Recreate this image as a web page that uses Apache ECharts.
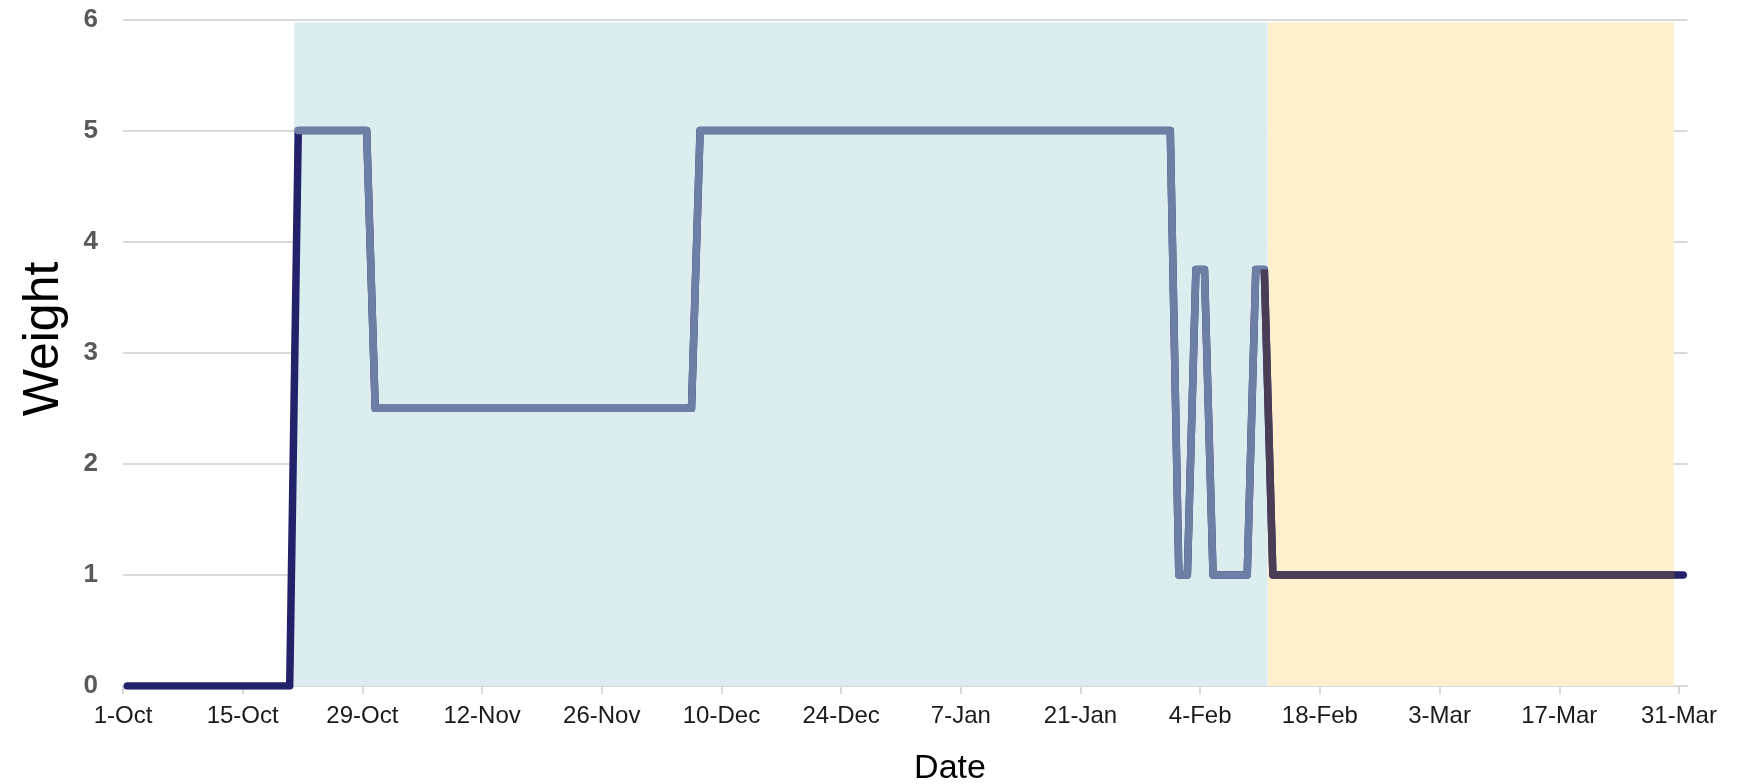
<!DOCTYPE html>
<html>
<head>
<meta charset="utf-8">
<script src="https://cdn.jsdelivr.net/npm/echarts@6/dist/echarts.min.js"></script>
<style>
html,body{margin:0;padding:0;background:#fff;}
#chart{width:1749px;height:784px;}
</style>
</head>
<body>
<div id="chart"></div>
<script>
// ---- data ----
const startDate = '2023-10-01';
// vertices of the weight line (daily values change only at these dates)
const dates = ['2023-10-01','2023-10-20','2023-10-21','2023-10-29','2023-10-30','2023-12-06','2023-12-07','2024-01-31','2024-02-01','2024-02-02','2024-02-03','2024-02-04','2024-02-05','2024-02-09','2024-02-10','2024-02-11','2024-02-12','2024-03-30','2024-03-31'];
const weights = [0,0,5,5,2.5,2.5,5,5,1,1,3.75,3.75,1,1,3.75,3.75,1,1,1];
// phase periods (highlighted series + shaded bands)
const phase1Range = ['2023-10-21','2024-02-11'];
const phase2Range = ['2024-02-11','2024-03-30'];
// shaded band edges, in days since 1-Oct
const band1 = [20, 133.9];
const band2 = [133.9, 181.4];
const bandTop = 5.975;
// x tick labels every 14 days
const tickDates = ['2023-10-01','2023-10-15','2023-10-29','2023-11-12','2023-11-26','2023-12-10','2023-12-24','2024-01-07','2024-01-21','2024-02-04','2024-02-18','2024-03-03','2024-03-17','2024-03-31'];
const yTicks = [0,1,2,3,4,5,6];

// ---- helpers ----
const MS = 86400000;
const t0 = Date.UTC(2023,9,1);
function dayIndex(s){ const p=s.split('-').map(Number); return Math.round((Date.UTC(p[0],p[1]-1,p[2])-t0)/MS); }
const MON = ['Jan','Feb','Mar','Apr','May','Jun','Jul','Aug','Sep','Oct','Nov','Dec'];
function fmt(d){ const dt = new Date(t0 + Math.round(d)*MS); return dt.getUTCDate()+'-'+MON[dt.getUTCMonth()]; }

const allPts = dates.map((d,i)=>[dayIndex(d)+0.5, weights[i]]);
function rangePts(r){ const a=dayIndex(r[0]), b=dayIndex(r[1]); return dates.map((d,i)=>[dayIndex(d), weights[i]]).filter(p=>p[0]>=a&&p[0]<=b).map(p=>[p[0]+0.5,p[1]]); }
const tickVals = tickDates.map(dayIndex);

const chart = echarts.init(document.getElementById('chart'), null, {renderer:'canvas'});
const font = 'Liberation Sans, Arial, sans-serif';
chart.setOption({
  animation:false,
  backgroundColor:'#ffffff',
  grid:{left:123, right:61.5, top:19.5, bottom:98, containLabel:false},
  xAxis:{
    type:'value', min:0, max:183,
    axisLine:{show:true, lineStyle:{color:'#d9d9d9', width:2}},
    axisTick:{show:true, customValues:tickVals, length:8, lineStyle:{color:'#d9d9d9', width:2}},
    axisLabel:{customValues:tickVals, formatter:v=>fmt(v), fontSize:24, color:'#1a1a1a', fontFamily:font, margin:18},
    splitLine:{show:false}
  },
  yAxis:{
    type:'value', min:0, max:6, interval:1,
    axisLine:{show:false}, axisTick:{show:false},
    axisLabel:{fontSize:26, fontWeight:'bold', color:'#595959', fontFamily:font, margin:25},
    splitLine:{show:true, lineStyle:{color:'#d9d9d9', width:2}}
  },
  series:[
    {type:'line', data:allPts, showSymbol:false, z:2,
     lineStyle:{color:'#22226a', width:7.5, cap:'round', join:'round'},
     markArea:{silent:true, itemStyle:{color:'#dcedf0'}, data:[[{xAxis:band1[0], yAxis:0},{xAxis:band1[1], yAxis:bandTop}]]}},
    {type:'line', data:[], showSymbol:false, z:1,
     markArea:{silent:true, itemStyle:{color:'#fef0cf'}, data:[[{xAxis:band2[0], yAxis:0},{xAxis:band2[1], yAxis:bandTop}]]}},
    {type:'line', data:rangePts(phase1Range), showSymbol:false, z:3,
     lineStyle:{color:'#6e7fa6', width:7.5, cap:'round', join:'round'}},
    {type:'line', data:rangePts(phase2Range), showSymbol:false, z:4,
     lineStyle:{color:'#4a3e56', width:7.5, cap:'butt', join:'round'}}
  ],
  graphic:[
    {type:'text', x:44, y:339, rotation:Math.PI/2, style:{text:'Weight', font:'50px '+font, fill:'#000', align:'center', verticalAlign:'middle'}},
    {type:'text', x:950, y:769, style:{text:'Date', font:'34px '+font, fill:'#000', align:'center', verticalAlign:'middle'}}
  ]
});
</script>
</body>
</html>
